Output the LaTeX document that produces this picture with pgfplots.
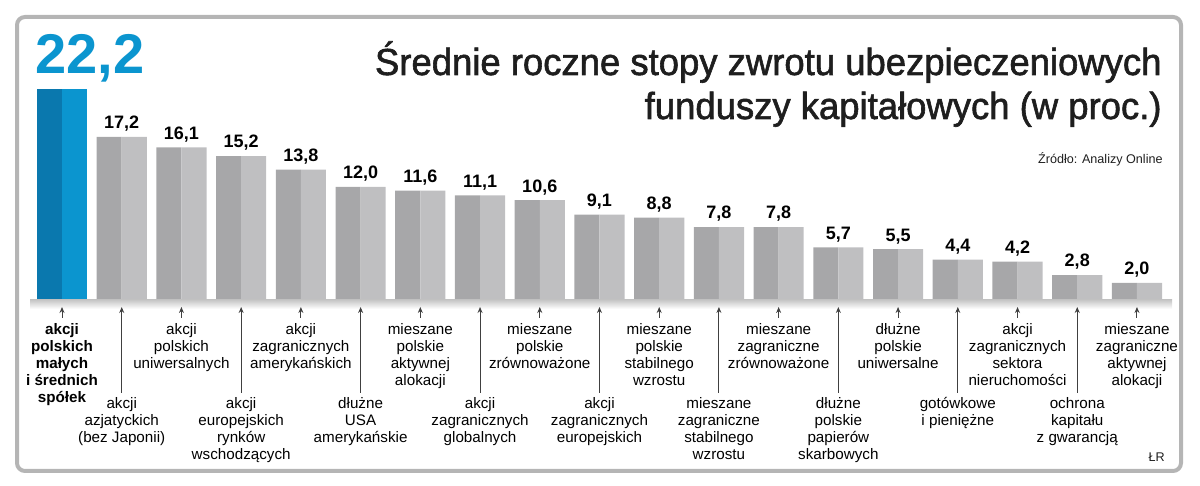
\documentclass[border=0pt]{standalone}
\usepackage{pgfplots}
\pgfplotsset{compat=1.18}
\usepackage{fontspec}
\setmainfont{Liberation Sans}
\newfontfamily\titlefont{Liberation Sans}[FakeBold=1.6, FakeStretch=0.97]
\usetikzlibrary{arrows.meta}

\definecolor{bluedark}{HTML}{0A78AE}
\definecolor{bluelight}{HTML}{0B95CF}
\definecolor{greydark}{HTML}{A7A7A9}
\definecolor{greylight}{HTML}{BFBFC1}
\definecolor{framegrey}{HTML}{B5B5B5}
\definecolor{txt}{HTML}{1E1E1E}

% grey bars (index, value in %)
\pgfplotstableread{
x v
1 17.2
2 16.1
3 15.2
4 13.8
5 12.0
6 11.6
7 11.1
8 10.6
9 9.1
10 8.8
11 7.8
12 7.8
13 5.7
14 5.5
15 4.4
16 4.2
17 2.8
18 2.0
}\greydata

\begin{document}
\begin{tikzpicture}[font=\color{txt}]
\begin{axis}[
  scale only axis,
  width=600pt, height=243pt,
  xmin=-1.0382, xmax=19.0556,
  ymin=-19.167, ymax=31.458,
  hide axis, clip=false,
  xtick=\empty, ytick=\empty,
]
% blue bar: left and right face
\addplot[ybar, bar width=0.42, bar shift=-0.21, fill=bluedark, draw=none]
  coordinates {(0,22.2)};
\addplot[ybar, bar width=0.42, bar shift=0.21, fill=bluelight, draw=none]
  coordinates {(0,22.2)};
% grey bars
\addplot[ybar, bar width=0.42, bar shift=-0.21, fill=greydark, draw=none]
  table[x=x, y=v] {\greydata};
\addplot[ybar, bar width=0.42, bar shift=0.21, fill=greylight, draw=none]
  table[x=x, y=v] {\greydata};
% value labels
\addplot[draw=none, mark=none, nodes near coords,
  every node near coord/.style={anchor=south, yshift=2.5pt, inner sep=0pt,
    font=\fontsize{9}{10}\selectfont\bfseries},
  /pgf/number format/.cd, fixed, fixed zerofill, precision=1, use comma,
  assume math mode=true]
  table[x=x, y=v] {\greydata};
\addplot[draw=none, mark=none, nodes near coords,
  every node near coord/.style={anchor=south, xshift=14pt, yshift=3pt, inner sep=0pt,
    font=\fontsize{28}{30}\selectfont\bfseries\color{bluelight}},
  /pgf/number format/.cd, fixed, fixed zerofill, precision=1, use comma,
  assume math mode=true]
  coordinates {(0,22.2)};
\end{axis}

\begin{scope}[x=0.5pt, y=-0.5pt, shift={(0,243pt)}]
  % shadow under the bars
  \shade[top color=black!22, bottom color=white, draw=none]
    (30,300) rectangle (1172,309);
  % frame
  \draw[framegrey, line width=2pt, rounded corners=4pt] (17,17) rectangle (1181,471);
  % title
  \node[anchor=base east, inner sep=0pt] at (1162,75)
    {\fontsize{18.8}{22}\titlefont Średnie roczne stopy zwrotu ubezpieczeniowych};
  \node[anchor=base east, inner sep=0pt] at (1162,119)
    {\fontsize{18.8}{22}\titlefont funduszy kapitałowych (w proc.)};
  \node[anchor=base east, inner sep=0pt] at (1163,164)
    {\fontsize{6.3}{7}\selectfont Źródło: Analizy Online};
  \node[anchor=base east, inner sep=0pt] at (1165,462)
    {\fontsize{6.3}{7}\selectfont ŁR};
  % category labels, upper row
  \foreach \i/\t in {
      2/{akcji\\polskich\\uniwersalnych},
      4/{akcji\\zagranicznych\\amerykańskich},
      6/{mieszane\\polskie\\aktywnej\\alokacji},
      8/{mieszane\\polskie\\zrównoważone},
      10/{mieszane\\polskie\\stabilnego\\wzrostu},
      12/{mieszane\\zagraniczne\\zrównoważone},
      14/{dłużne\\polskie\\uniwersalne},
      16/{akcji\\zagranicznych\\sektora\\nieruchomości},
      18/{mieszane\\zagraniczne\\aktywnej\\alokacji}} {
    \draw[black!75, line width=0.5pt, -{Stealth[length=3pt,width=2.5pt]}]
      ({62+59.72*\i},318) -- ({62+59.72*\i},307);
    \node[anchor=north, align=center, inner sep=0pt,
      font=\fontsize{7.6}{8.5}\selectfont] at ({62+59.72*\i},323) {\t};
  }
  \draw[black!75, line width=0.5pt, -{Stealth[length=3pt,width=2.5pt]}]
    (62,318) -- (62,307);
  \node[anchor=north, align=center, inner sep=0pt,
    font=\fontsize{7.6}{8.5}\selectfont\bfseries] at (62,323)
    {akcji\\polskich\\małych\\i średnich\\spółek};
  % category labels, lower row
  \foreach \i/\t in {
      1/{akcji\\azjatyckich\\(bez Japonii)},
      3/{akcji\\europejskich\\rynków\\wschodzących},
      5/{dłużne\\USA\\amerykańskie},
      7/{akcji\\zagranicznych\\globalnych},
      9/{akcji\\zagranicznych\\europejskich},
      11/{mieszane\\zagraniczne\\stabilnego\\wzrostu},
      13/{dłużne\\polskie\\papierów\\skarbowych},
      15/{gotówkowe\\i pieniężne},
      17/{ochrona\\kapitału\\z gwarancją}} {
    \draw[black!75, line width=0.5pt, -{Stealth[length=3pt,width=2.5pt]}]
      ({62+59.72*\i},393) -- ({62+59.72*\i},307);
    \node[anchor=north, align=center, inner sep=0pt,
      font=\fontsize{7.6}{8.5}\selectfont] at ({62+59.72*\i},397) {\t};
  }
\end{scope}
\pgfresetboundingbox
\path (0,0) rectangle (600pt,243pt);
\end{tikzpicture}
\end{document}
